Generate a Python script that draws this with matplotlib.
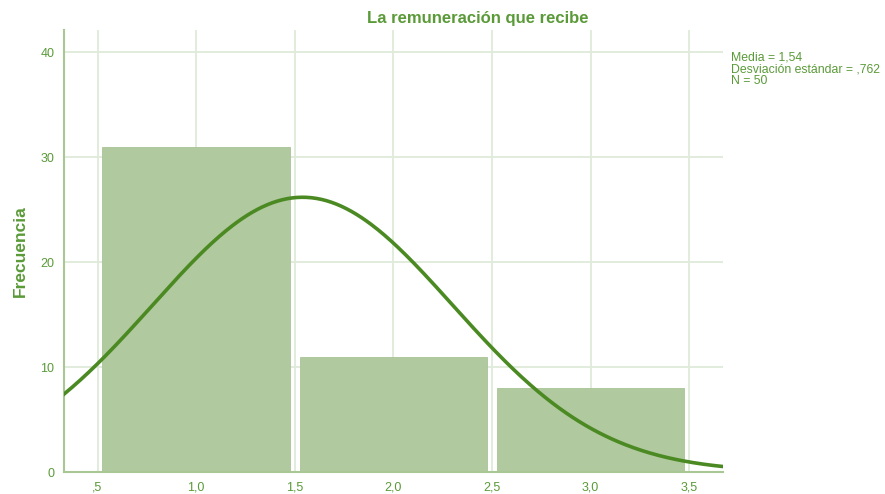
import numpy as np
import matplotlib
matplotlib.use("Agg")
import matplotlib.pyplot as plt

plt.rcParams["font.family"] = ["Liberation Sans", "DejaVu Sans"]

# datos del histograma
centros = [1.0, 2.0, 3.0]
frecuencias = [31, 11, 8]
media = 1.54
desv = 0.762
n = 50
xticks = [0.5, 1.0, 1.5, 2.0, 2.5, 3.0, 3.5]
xtick_labels = [",5", "1,0", "1,5", "2,0", "2,5", "3,0", "3,5"]
yticks = [0, 10, 20, 30, 40]

verde_txt = "#5a9a38"
verde_linea = "#4b8a22"
verde_barra = "#b0c99e"
verde_grid = "#dfeada"

fig = plt.figure(figsize=(8.85, 4.94), dpi=100)
ax = fig.add_axes([0.0723, 0.0445, 0.7447, 0.8945])

ax.bar(centros, frecuencias, width=0.95, color=verde_barra,
       edgecolor="#a9c395", linewidth=0.6, zorder=2)

# curva normal escalada a la frecuencia
xs = np.linspace(0.33, 3.672, 400)
curva = n * 1.0 / (desv * np.sqrt(2 * np.pi)) * np.exp(-0.5 * ((xs - media) / desv) ** 2)
ax.plot(xs, curva, color=verde_linea, linewidth=2.6, zorder=3)

ax.set_xlim(0.33, 3.672)
ax.set_ylim(0, 42.1)
ax.set_xticks(xticks)
ax.set_xticklabels(xtick_labels)
ax.set_yticks(yticks)
ax.grid(True, color=verde_grid, linewidth=1.3, zorder=0)
ax.set_axisbelow(True)
ax.tick_params(length=0, colors=verde_txt, labelsize=9, pad=7)
for s in ["top", "right"]:
    ax.spines[s].set_visible(False)
for s in ["left", "bottom"]:
    ax.spines[s].set_color("#a9c795")
    ax.spines[s].set_linewidth(1.5)

ax.set_ylabel("Frecuencia", color=verde_txt, fontsize=12.5, fontweight="bold", labelpad=9)
fig.text(478 / 885, 1 - 18 / 494, "La remuneración que recibe", color=verde_txt,
         fontsize=12, fontweight="bold", ha="center", va="center")
fig.text(731 / 885, 1 - 52 / 494,
         "Media = 1,54\nDesviación estándar = ,762\nN = 50",
         color=verde_txt, fontsize=8.8, ha="left", va="top", linespacing=0.92)

fig.savefig("out.png", dpi=100)
